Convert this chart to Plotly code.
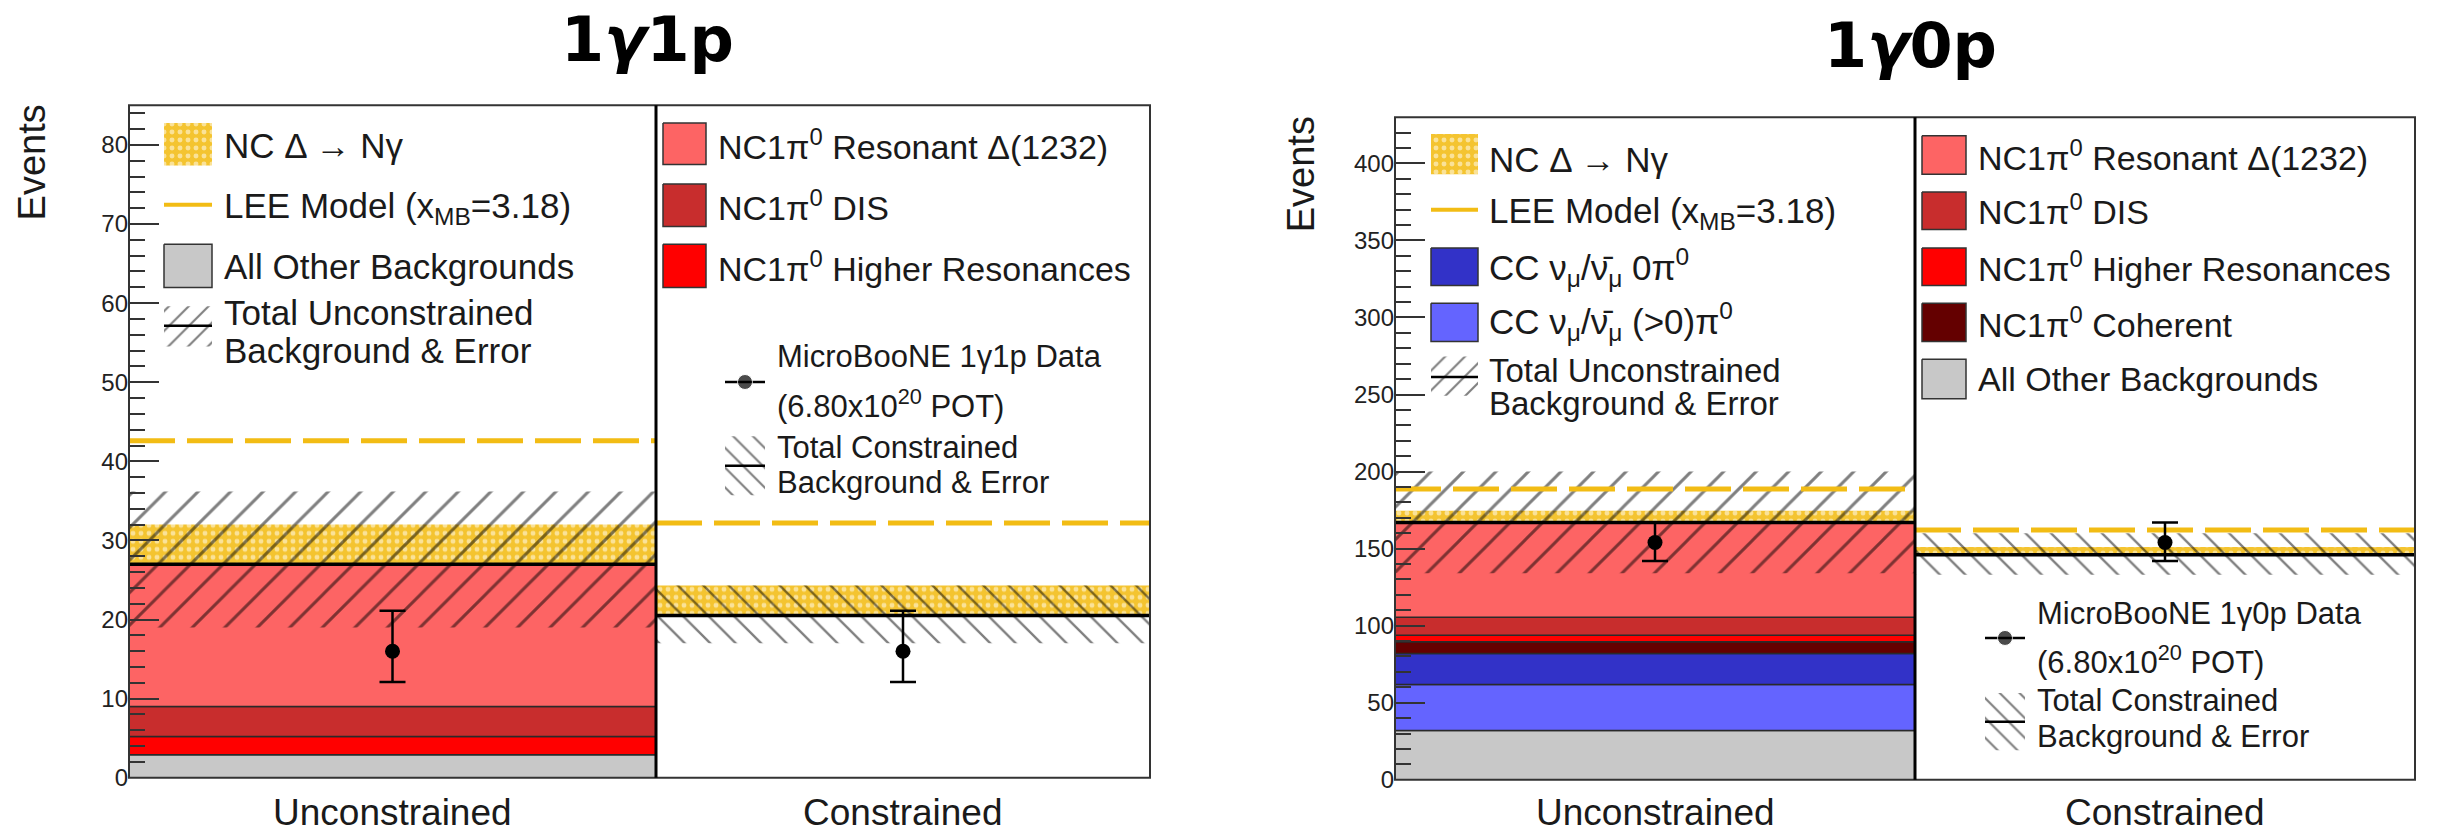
import numpy as np
import plotly.graph_objects as go

W, H = 2441, 839

# ---------------- data ----------------
section_labels = ["Unconstrained", "Constrained"]

# 1γ1p: unconstrained prediction stack, bottom to top
g1p_stack_names = ["All Other Backgrounds", "NC1π0 Higher Resonances", "NC1π0 DIS",
                   "NC1π0 Resonant Δ(1232)"]
g1p_stack = [2.9, 2.3, 3.8, 18.0]
g1p_bkg_constrained = 20.5
g1p_ncdelta = [5.0, 3.8]          # NC Δ → Nγ on top of background
g1p_err_lo = [19.0, 17.0]         # background error band edges
g1p_err_hi = [36.2, 24.3]
g1p_lee = [42.6, 32.2]            # LEE model (x_MB = 3.18)
g1p_data = [16, 16]
g1p_data_up = [5.1, 5.1]
g1p_data_dn = [3.9, 3.9]

# 1γ0p: unconstrained prediction stack, bottom to top
g0p_stack_names = ["All Other Backgrounds", "CC (>0)π0", "CC 0π0", "NC1π0 Coherent",
                   "NC1π0 Higher Resonances", "NC1π0 DIS", "NC1π0 Resonant Δ(1232)"]
g0p_stack = [32.0, 29.8, 20.2, 7.5, 4.2, 11.7, 61.6]
g0p_bkg_constrained = 146.0
g0p_ncdelta = [7.5, 5.0]
g0p_err_lo = [134.0, 133.0]
g0p_err_hi = [200.0, 160.0]
g0p_lee = [188.7, 162.0]
g0p_data = [154, 154]
g0p_data_up = [13.0, 13.0]
g0p_data_dn = [12.0, 12.0]

# ---------------- style ----------------
C_OTHER = "#C8C8C8"
C_HIGHER = "#FF0000"
C_DIS = "#C82D2D"
C_DELTA = "#FD6464"
C_COH = "#640000"
C_CC0 = "#3232C8"
C_CCN = "#6464FF"
GOLD = "#F2BC14"
GOLD_FILL = "#F4C430"
EDGE = "#2a2a2a"
FONT = "Liberation Sans, Arial, sans-serif"

g1p_colors = [C_OTHER, C_HIGHER, C_DIS, C_DELTA]
g0p_colors = [C_OTHER, C_CCN, C_CC0, C_COH, C_HIGHER, C_DIS, C_DELTA]


def px_x(p):
    return p / W


def px_y(p):
    return 1 - p / H


fig = go.Figure()

YELLOW_PATTERN = dict(shape=".", fgcolor="white", bgcolor=GOLD_FILL, size=8, solidity=0.3)


def hatch(shape, size):
    return dict(shape=shape, fgcolor="#000000", bgcolor="rgba(0,0,0,0)", size=size, solidity=0.13)


def add_section(xa, ya, stack_vals, stack_cols, bkg, ncd, lo, hi, lee, d, du, dd, hshape, hsize):
    # stacked background components
    if stack_vals:
        bases = np.concatenate([[0.0], np.cumsum(stack_vals)[:-1]])
        for b, v, c in zip(bases, stack_vals, stack_cols):
            fig.add_trace(go.Bar(x=[0.5], y=[v], base=[b], width=[1.0], xaxis=xa, yaxis=ya,
                                 marker=dict(color=c, line=dict(color=EDGE, width=1.5))))
    # NC Δ → Nγ on top of the background
    fig.add_trace(go.Bar(x=[0.5], y=[ncd], base=[bkg], width=[1.0], xaxis=xa, yaxis=ya,
                         marker=dict(color=GOLD_FILL, line=dict(width=0), pattern=YELLOW_PATTERN)))
    # background total
    fig.add_trace(go.Scatter(x=[0, 1], y=[bkg, bkg], mode="lines", xaxis=xa, yaxis=ya,
                             line=dict(color="black", width=3.5)))
    # background error band
    fig.add_trace(go.Bar(x=[0.5], y=[hi - lo], base=[lo], width=[1.0], xaxis=xa, yaxis=ya,
                         marker=dict(color="rgba(0,0,0,0)", line=dict(width=0),
                                     pattern=hatch(hshape, hsize))))
    # LEE model
    fig.add_trace(go.Scatter(x=[0, 1], y=[lee, lee], mode="lines", xaxis=xa, yaxis=ya,
                             line=dict(color=GOLD, width=5, dash="46px,12px")))
    # data
    fig.add_trace(go.Scatter(x=[0.5], y=[d], mode="markers", xaxis=xa, yaxis=ya,
                             marker=dict(color="black", size=15),
                             error_y=dict(type="data", symmetric=False, array=[du], arrayminus=[dd],
                                          color="black", thickness=2.5, width=13)))


# 1γ1p panel
add_section("x", "y", g1p_stack, g1p_colors, float(np.sum(g1p_stack)), g1p_ncdelta[0],
            g1p_err_lo[0], g1p_err_hi[0], g1p_lee[0], g1p_data[0], g1p_data_up[0], g1p_data_dn[0],
            "/", 23)
add_section("x2", "y", [], [], g1p_bkg_constrained, g1p_ncdelta[1],
            g1p_err_lo[1], g1p_err_hi[1], g1p_lee[1], g1p_data[1], g1p_data_up[1], g1p_data_dn[1],
            "\\", 18)
# 1γ0p panel
add_section("x3", "y2", g0p_stack, g0p_colors, float(np.sum(g0p_stack)), g0p_ncdelta[0],
            g0p_err_lo[0], g0p_err_hi[0], g0p_lee[0], g0p_data[0], g0p_data_up[0], g0p_data_dn[0],
            "/", 23)
add_section("x4", "y2", [], [], g0p_bkg_constrained, g0p_ncdelta[1],
            g0p_err_lo[1], g0p_err_hi[1], g0p_lee[1], g0p_data[1], g0p_data_up[1], g0p_data_dn[1],
            "\\", 18)

# ---------------- legend samples (pixel overlay axes) ----------------
annotations = []


def box(x0, y0, x1, y1, color=None, pattern=None, border=True):
    kw = dict(x=[x0, x1, x1, x0, x0], y=[y0, y0, y1, y1, y0], mode="lines", fill="toself",
              xaxis="x5", yaxis="y3",
              line=dict(color="#333333" if border else "rgba(0,0,0,0)", width=1.5 if border else 0))
    if pattern is not None:
        kw["fillpattern"] = pattern
        kw["fillcolor"] = pattern.get("bgcolor", "rgba(0,0,0,0)")
    else:
        kw["fillcolor"] = color
    fig.add_trace(go.Scatter(**kw))


def hline(x0, x1, y, color, width):
    fig.add_trace(go.Scatter(x=[x0, x1], y=[y, y], mode="lines", xaxis="x5", yaxis="y3",
                             line=dict(color=color, width=width)))


def data_sample(x0, x1, y):
    fig.add_trace(go.Scatter(x=[x0, (x0 + x1) / 2, x1], y=[y, y, y], mode="lines+markers",
                             xaxis="x5", yaxis="y3", line=dict(color="black", width=2.5),
                             marker=dict(color="black", size=[0, 15, 0])))


def text(x, y, s, size):
    annotations.append(dict(x=px_x(x), y=px_y(y), xref="paper", yref="paper", text=s,
                            showarrow=False, xanchor="left", yanchor="middle",
                            font=dict(family=FONT, size=size, color="#1a1a1a")))


def hatch_sample(x0, y0, x1, y1, ymid, shape):
    box(x0, y0, x1, y1, pattern=dict(shape=shape, fgcolor="#000000", bgcolor="rgba(0,0,0,0)",
                                     size=14, solidity=0.15), border=False)
    hline(x0, x1, ymid, "black", 2.5)


L1 = 35
L2 = 34
L3 = 31

# 1γ1p, unconstrained-side legend
box(164, 125, 212, 168, pattern=YELLOW_PATTERN, border=False)
text(222, 148, "NC Δ → Nγ", L1)
hline(164, 212, 208, GOLD, 4)
text(222, 211, "LEE Model (x<sub>MB</sub>=3.18)", L1)
box(164, 248, 212, 292, color=C_OTHER)
text(222, 271, "All Other Backgrounds", L1)
hatch_sample(164, 311, 212, 352, 331, "/")
text(222, 317, "Total Unconstrained", L1)
text(222, 356, "Background & Error", L1)

# 1γ1p, constrained-side legend
box(663, 125, 706, 167, color=C_DELTA)
text(716, 147, "NC1π<sup>0</sup> Resonant Δ(1232)", L2)
box(663, 187, 706, 230, color=C_DIS)
text(716, 209, "NC1π<sup>0</sup> DIS", L2)
box(663, 248, 706, 292, color=C_HIGHER)
text(716, 271, "NC1π<sup>0</sup> Higher Resonances", L2)
data_sample(725, 765, 388)
text(775, 362, "MicroBooNE 1γ1p Data", L3)
text(775, 410, "(6.80x10<sup>20</sup> POT)", L3)
hatch_sample(725, 443, 765, 503, 473, "\\")
text(775, 455, "Total Constrained", L3)
text(775, 490, "Background & Error", L3)

# 1γ0p, unconstrained-side legend
box(1431, 136, 1478, 177, pattern=YELLOW_PATTERN, border=False)
text(1487, 162, "NC Δ → Nγ", L1)
hline(1431, 1478, 213, GOLD, 4)
text(1487, 216, "LEE Model (x<sub>MB</sub>=3.18)", L1)
box(1431, 252, 1478, 290, color=C_CC0)
text(1487, 272, "CC ν<sub>μ</sub>/ν\u0304<sub>μ</sub> 0π<sup>0</sup>", L1)
box(1431, 308, 1478, 347, color=C_CCN)
text(1487, 327, "CC ν<sub>μ</sub>/ν\u0304<sub>μ</sub> (>0)π<sup>0</sup>", L1)
hatch_sample(1431, 362, 1478, 402, 383, "/")
text(1487, 376, "Total Unconstrained", 33)
text(1487, 410, "Background & Error", 33)

# 1γ0p, constrained-side legend
box(1922, 138, 1966, 177, color=C_DELTA)
text(1976, 158, "NC1π<sup>0</sup> Resonant Δ(1232)", L2)
box(1922, 195, 1966, 233, color=C_DIS)
text(1976, 213, "NC1π<sup>0</sup> DIS", L2)
box(1922, 252, 1966, 290, color=C_HIGHER)
text(1976, 271, "NC1π<sup>0</sup> Higher Resonances", L2)
box(1922, 308, 1966, 347, color=C_COH)
text(1976, 328, "NC1π<sup>0</sup> Coherent", L2)
box(1922, 365, 1966, 405, color=C_OTHER)
text(1976, 385, "All Other Backgrounds", L2)
data_sample(1985, 2025, 648)
text(2035, 623, "MicroBooNE 1γ0p Data", L3)
text(2035, 670, "(6.80x10<sup>20</sup> POT)", L3)
hatch_sample(1985, 704, 2025, 762, 733, "\\")
text(2035, 712, "Total Constrained", L3)
text(2035, 748, "Background & Error", L3)

# ---------------- titles and axis labels ----------------
for x, y, s in [(647, 40, "<b>1<i>γ</i>1p</b>"), (1910, 46, "<b>1<i>γ</i>0p</b>")]:
    annotations.append(dict(x=px_x(x), y=px_y(y), xref="paper", yref="paper", text=s,
                            showarrow=False, xanchor="center", yanchor="middle",
                            font=dict(family="DejaVu Sans, sans-serif", size=62, color="black")))

for x, y in [(32, 165), (1301, 177)]:
    annotations.append(dict(x=px_x(x), y=px_y(y), xref="paper", yref="paper", text="Events",
                            showarrow=False, textangle=-90, xanchor="center", yanchor="middle",
                            font=dict(family=FONT, size=38, color="#1a1a1a")))

for xa, lab in [("x", section_labels[0]), ("x2", section_labels[1]),
                ("x3", section_labels[0]), ("x4", section_labels[1])]:
    annotations.append(dict(x=0.5, y=px_y(825), xref=xa, yref="paper", text=lab,
                            showarrow=False, xanchor="center", yanchor="middle",
                            font=dict(family=FONT, size=37, color="#1a1a1a")))

# ---------------- frames ----------------
shapes = []


def frame(x0, y0, x1, y1, xdiv):
    shapes.append(dict(type="rect", xref="paper", yref="paper", x0=px_x(x0), x1=px_x(x1),
                       y0=px_y(y1), y1=px_y(y0), line=dict(color="#333333", width=2),
                       fillcolor="rgba(0,0,0,0)", layer="above"))
    shapes.append(dict(type="line", xref="paper", yref="paper", x0=px_x(xdiv), x1=px_x(xdiv),
                       y0=px_y(y1), y1=px_y(y0), line=dict(color="black", width=3), layer="above"))


L_AX, L_DIV, L_END = 129, 656, 1150
R_AX, R_DIV, R_END = 1395, 1915, 2415
frame(L_AX, 107, L_END, 790, L_DIV)
frame(R_AX, 119, R_END, 792, R_DIV)

hidden_x = dict(showticklabels=False, showline=False, ticks="", showgrid=False, zeroline=False,
                fixedrange=True)


def yaxis_style(rng, dtick, minor_dtick, dom, anchor):
    return dict(domain=dom, range=rng, anchor=anchor, dtick=dtick, ticks="inside", ticklen=30,
                tickwidth=2, tickcolor="#333333", showline=False, showgrid=False, zeroline=False,
                tickfont=dict(family=FONT, size=24, color="#222222"),
                minor=dict(dtick=minor_dtick, ticks="inside", ticklen=16, tickwidth=2,
                           tickcolor="#333333", showgrid=False),
                fixedrange=True)


fig.update_layout(
    width=W, height=H, autosize=False,
    margin=dict(l=0, r=0, t=0, b=0),
    paper_bgcolor="white", plot_bgcolor="rgba(0,0,0,0)",
    showlegend=False, barmode="overlay",
    xaxis=dict(domain=[px_x(L_AX), px_x(L_DIV)], range=[0, 1], anchor="y", **hidden_x),
    xaxis2=dict(domain=[px_x(L_DIV), px_x(L_END)], range=[0, 1], anchor="y", **hidden_x),
    xaxis3=dict(domain=[px_x(R_AX), px_x(R_DIV)], range=[0, 1], anchor="y2", **hidden_x),
    xaxis4=dict(domain=[px_x(R_DIV), px_x(R_END)], range=[0, 1], anchor="y2", **hidden_x),
    xaxis5=dict(domain=[0, 1], range=[0, W], anchor="y3", visible=False, fixedrange=True),
    yaxis=yaxis_style([0, 85], 10, 2, [px_y(790), px_y(107)], "x"),
    yaxis2=yaxis_style([0, 430], 50, 10, [px_y(792), px_y(119)], "x3"),
    yaxis3=dict(domain=[0, 1], range=[H, 0], anchor="x5", visible=False, fixedrange=True),
    annotations=annotations,
    shapes=shapes,
)

fig.write_html("out.html")
